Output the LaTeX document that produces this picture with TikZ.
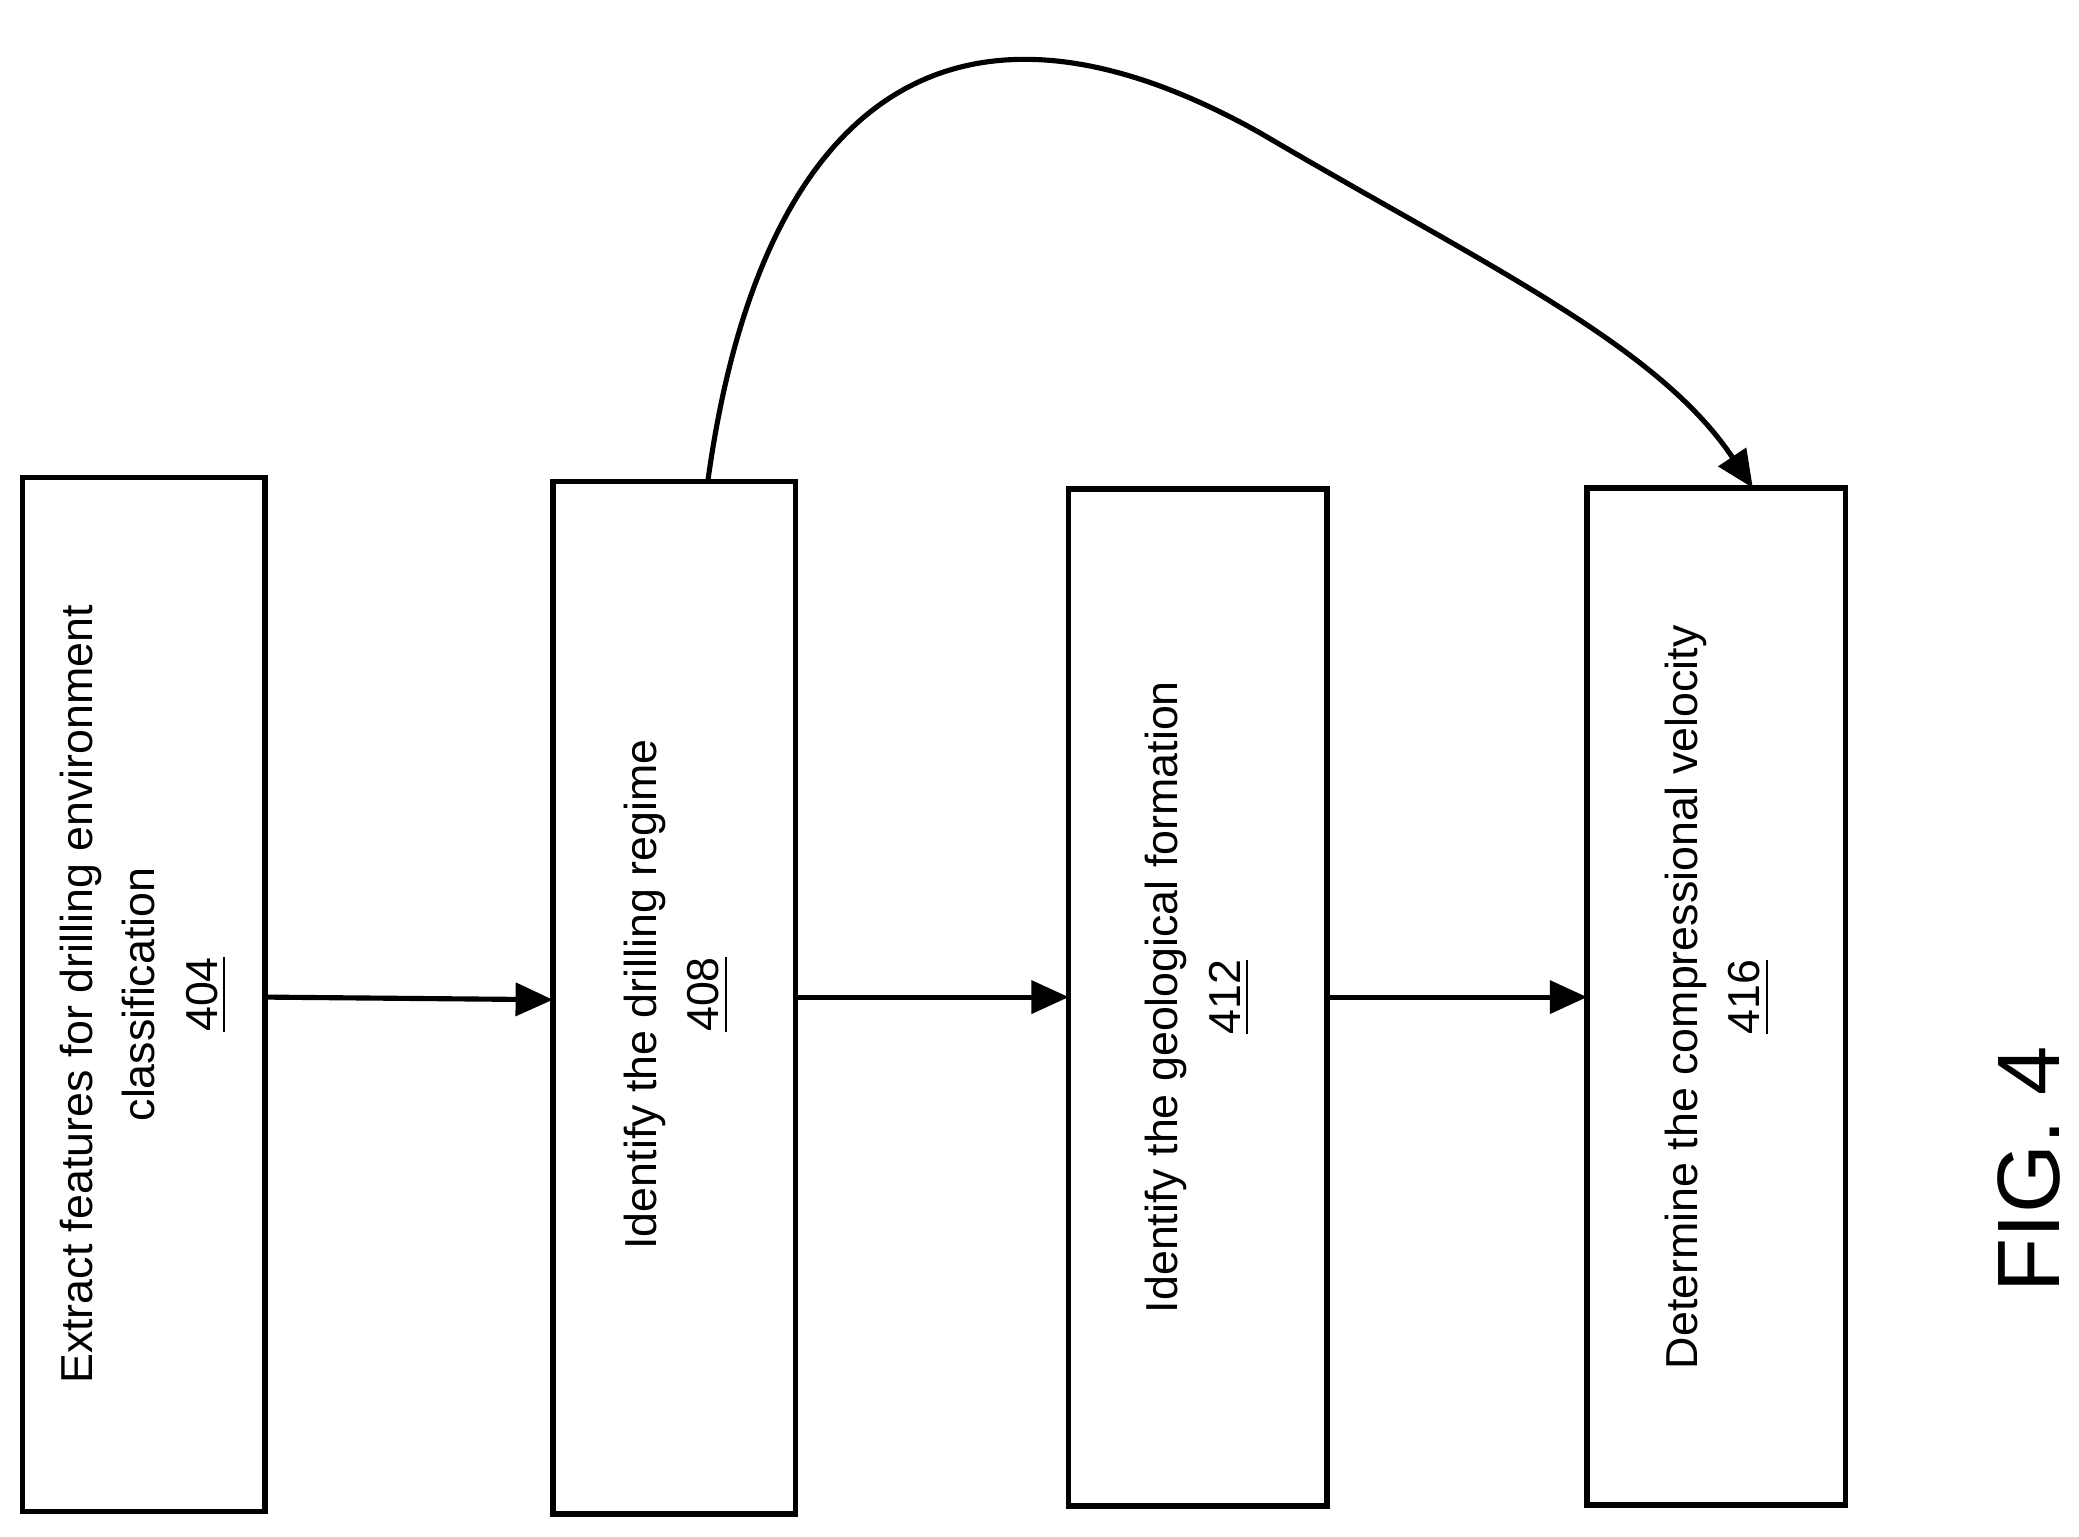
\documentclass[tikz,border=0pt]{standalone}
\usepackage{fontspec}
\setmainfont{Liberation Sans}
\usetikzlibrary{arrows.meta}
\begin{document}
\begin{tikzpicture}[x=0.01cm,y=-0.01cm,
 box/.style={draw,line width=1.2pt,minimum width=#1,inner sep=0pt},
 lbl/.style={rotate=90,align=center,font=\fontsize{9.6pt}{13.4pt}\selectfont},
 arr/.style={line width=1.1pt,-{Triangle[length=8pt,width=7pt]}}]
\useasboundingbox (0,0) rectangle (1568,1159);
\draw[line width=1.2pt] (17,360) rectangle (200,1140);
\draw[line width=1.2pt] (417,363) rectangle (600,1142);
\draw[line width=1.2pt] (806,369) rectangle (1001,1136);
\draw[line width=1.2pt] (1197,368) rectangle (1392,1135);
\coordinate (b1e) at (200,752);\coordinate (b2w) at (417,754);
\coordinate (b2e) at (600,752);\coordinate (b3w) at (806,752);
\coordinate (b3e) at (1001,752);\coordinate (b4w) at (1197,752);
\coordinate (b2t) at (534,362);\coordinate (b4t) at (1322,368);
\node[lbl] (t1) at (108,750) {Extract features for drilling environment\\classification\\\underline{404}};
\node[lbl] (t2) at (510,750) {Identify the drilling regime\\\underline{408}};
\node[lbl] (t3) at (903,752) {Identify the geological formation\\\underline{412}};
\node[lbl] (t4) at (1295,752) {Determine the compressional velocity\\\underline{416}};
\node[rotate=90,font=\fontsize{19pt}{22pt}\selectfont] (fig) at (1530,882) {FIG. 4};
\draw[arr] (b1e) -- (b2w);
\draw[arr] (b2e) -- (b3w);
\draw[arr] (b3e) -- (b4w);
\draw[arr] (b2t) .. controls (570,100) and (700,-40) .. (950,100) .. controls (1120,200) and (1250,260) .. (b4t);
\end{tikzpicture}
\end{document}
